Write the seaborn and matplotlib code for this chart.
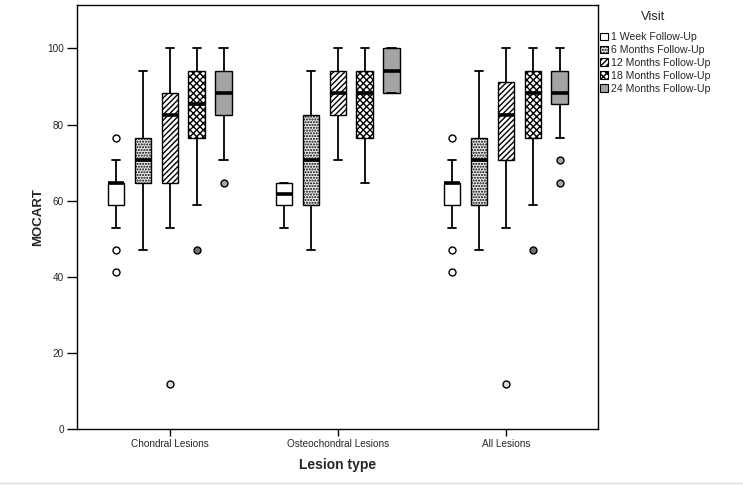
import matplotlib
matplotlib.use("Agg")
import matplotlib.pyplot as plt
from matplotlib.patches import Patch
from matplotlib.lines import Line2D
import seaborn as sns
import pandas as pd

# ---------------- data (MOCART scores, %) ----------------
lesion_types = ["Chondral Lesions", "Osteochondral Lesions", "All Lesions"]
visits = ["1 Week Follow-Up", "6 Months Follow-Up", "12 Months Follow-Up",
          "18 Months Follow-Up", "24 Months Follow-Up"]

chondral_1w = [41.2, 47.1, 52.9, 58.8, 58.8, 58.8, 64.7, 64.7, 64.7, 64.7, 64.7, 70.6, 76.5]
chondral_6m = [47.1, 58.8, 64.7, 70.6, 70.6, 70.6, 76.5, 82.4, 94.1]
chondral_12m = [11.8, 52.9, 58.8, 64.7, 70.6, 76.5, 82.4, 82.4, 88.2, 88.2, 94.1, 100, 100]
chondral_18m = [47.1, 58.8, 76.5, 76.5, 76.5, 82.4, 88.2, 94.1, 94.1, 94.1, 100, 100]
chondral_24m = [64.7, 70.6, 82.4, 88.2, 88.2, 94.1, 94.1, 100, 100]

osteo_1w = [52.9, 58.8, 58.8, 64.7, 64.7, 64.7]
osteo_6m = [47.1, 52.9, 58.8, 64.7, 70.6, 76.5, 82.4, 88.2, 94.1]
osteo_12m = [70.6, 76.5, 82.4, 88.2, 88.2, 88.2, 94.1, 100, 100]
osteo_18m = [64.7, 70.6, 76.5, 82.4, 88.2, 88.2, 94.1, 100, 100]
osteo_24m = [88.2, 88.2, 94.1, 100, 100]

all_1w = [41.2, 47.1, 52.9, 52.9, 58.8, 58.8, 58.8, 58.8, 58.8, 64.7, 64.7, 64.7,
          64.7, 64.7, 64.7, 64.7, 64.7, 70.6, 76.5]
all_6m = [47.1, 52.9, 58.8, 64.7, 70.6, 70.6, 76.5, 88.2, 94.1]
all_12m = [11.8, 52.9, 70.6, 70.6, 76.5, 82.4, 88.2, 88.2, 94.1, 100, 100]
all_18m = [47.1, 58.8, 70.6, 76.5, 82.4, 88.2, 88.2, 88.2, 94.1, 94.1, 100, 100, 100]
all_24m = [64.7, 70.6, 76.5, 82.4, 88.2, 88.2, 88.2, 88.2, 88.2, 94.1, 94.1, 94.1,
           100, 100, 100]

groups = {
    lesion_types[0]: [chondral_1w, chondral_6m, chondral_12m, chondral_18m, chondral_24m],
    lesion_types[1]: [osteo_1w, osteo_6m, osteo_12m, osteo_18m, osteo_24m],
    lesion_types[2]: [all_1w, all_6m, all_12m, all_18m, all_24m],
}
rows = []
for lt, lists in groups.items():
    for v, vals in zip(visits, lists):
        for x in vals:
            rows.append({"Lesion type": lt, "Visit": v, "MOCART": x})
df = pd.DataFrame(rows)

# ---------------- styling ----------------
face_colors = ["white", "#ececec", "white", "white", "#a4a4a4"]
hatches = [None, "......", "//////", "xxxxx", None]
hatch_colors = ["black", "#8c8c8c", "black", "black", "black"]
flier_faces = ["white", "#d0d0d0", "#d8d8d8", "#707070", "#a4a4a4"]

sns.set_style("ticks")
plt.rcParams["font.family"] = ["Liberation Sans", "DejaVu Sans"]
plt.rcParams["hatch.linewidth"] = 1.0

fig = plt.figure(figsize=(7.43, 4.87), dpi=100)
ax = fig.add_axes([77.3 / 743, 58 / 487, (598.3 - 77.3) / 743, 424 / 487])

sns.boxplot(
    data=df, x="Lesion type", y="MOCART", hue="Visit",
    order=lesion_types, hue_order=visits, palette=face_colors,
    saturation=1, width=0.8, gap=0.39, linecolor="black", linewidth=1.0,
    whis=1.5, legend=False, ax=ax,
    medianprops=dict(color="black", linewidth=2.6),
    whiskerprops=dict(color="black", linewidth=1.3),
    capprops=dict(color="black", linewidth=1.3),
    flierprops=dict(marker="o", markersize=5, markeredgecolor="black",
                    markeredgewidth=1.0),
)

for cont, h, hc, ff in zip(ax.containers, hatches, hatch_colors, flier_faces):
    for box in cont.boxes:
        if h:
            box.set_hatch(h)
            if hasattr(box, "set_hatchcolor"):
                box.set_hatchcolor(hc)
        box.set_edgecolor("black")
    for fl in cont.fliers:
        fl.set_markerfacecolor(ff)
        fl.set_markeredgecolor("black")

ax.set_xlim(-0.55, 2.55)
ax.set_ylim(0, 111.4)
ax.set_yticks([0, 20, 40, 60, 80, 100])
ax.tick_params(axis="both", labelsize=7.2, width=1, color="black",
               direction="out")
ax.tick_params(axis="y", length=7, pad=2.5)
ax.tick_params(axis="x", length=5, pad=2)
for sp in ax.spines.values():
    sp.set_visible(True)
    sp.set_color("black")
    sp.set_linewidth(1.0)

ax.set_xlabel("Lesion type", fontsize=10, fontweight="bold", labelpad=7)
ax.set_ylabel("MOCART", fontsize=9.5, fontweight="bold", labelpad=2)

handles = []
for v, fc, h, hc in zip(visits, face_colors, hatches, hatch_colors):
    p = Patch(facecolor=fc, edgecolor="black", hatch=h, linewidth=0.8, label=v)
    handles.append(p)
fig.text(653 / 743, 1 - 17 / 487, "Visit", ha="center", va="center", fontsize=9.3)
fig.legend(handles=handles, loc="upper left",
           bbox_to_anchor=(598 / 743, 1 - 30 / 487), frameon=False,
           fontsize=7.6, handlelength=0.75,
           handleheight=0.75, handletextpad=0.25, labelspacing=0.28,
           borderaxespad=0, borderpad=0.2)

fig.add_artist(Line2D([0, 1], [4 / 487, 4 / 487], color="#dddddd", linewidth=1.0))

fig.savefig("out.png", dpi=100)
